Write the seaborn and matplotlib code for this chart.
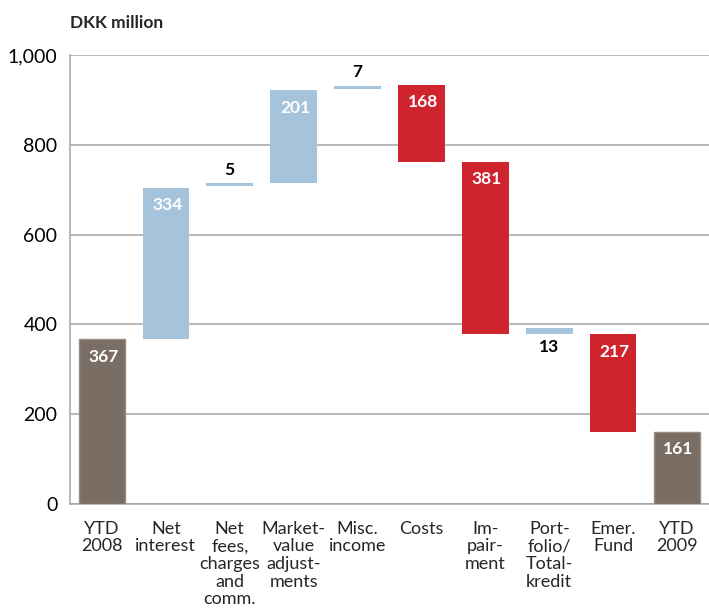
import matplotlib
matplotlib.use("Agg")
import matplotlib.pyplot as plt
import seaborn as sns
import pandas as pd
import numpy as np
from matplotlib.ticker import FixedLocator

categories = ["YTD\n2008", "Net\ninterest", "Net\nfees,\ncharges\nand\ncomm.",
              "Market-\nvalue\nadjust-\nments", "Misc.\nincome", "Costs",
              "Im-\npair-\nment", "Port-\nfolio/\nTotal-\nkredit", "Emer.\nFund", "YTD\n2009"]
bar_bottoms = [0, 367, 708, 716, 924, 762, 379, 378, 161, 0]
bar_tops = [367, 704, 714, 921, 931, 933, 762, 392, 378, 161]
value_labels = ["367", "334", "5", "201", "7", "168", "381", "13", "217", "161"]
label_place = ["inside", "inside", "above", "inside", "above", "inside", "inside", "below", "inside", "inside"]
bar_kind = ["total", "up", "up", "up", "up", "down", "down", "up", "down", "total"]

kind_colors = {"total": "#7a6d63", "up": "#a6c3dc", "down": "#cf242e"}

sns.set_style("white")
plt.rcParams["font.family"] = ["Lato", "DejaVu Sans"]

df = pd.DataFrame({
    "category": categories,
    "height": [t - b for t, b in zip(bar_tops, bar_bottoms)],
})

fig = plt.figure(figsize=(7.09, 6.08), dpi=100)
ax = fig.add_axes([70 / 709, 104 / 608, 639 / 709, 449 / 608])

sns.barplot(data=df, x="category", y="height", bottom=np.array(bar_bottoms, dtype=float),
            width=0.73, color="#a6c3dc", ax=ax, zorder=3, linewidth=0)

for patch, kind in zip(ax.patches, bar_kind):
    patch.set_facecolor(kind_colors[kind])
    if kind == "total":
        patch.set_edgecolor("#9c8c82")
        patch.set_linewidth(1.0)

for i, (lab, place, b, t) in enumerate(zip(value_labels, label_place, bar_bottoms, bar_tops)):
    if place == "inside":
        ax.annotate(lab, (i, t), xytext=(1, -12.5), textcoords="offset points",
                    ha="center", va="center", color="white", fontsize=12.5,
                    fontweight="bold", zorder=5)
    elif place == "above":
        ax.annotate(lab, (i, t), xytext=(0, 10), textcoords="offset points",
                    ha="center", va="center", color="black", fontsize=12.5,
                    fontweight="bold", zorder=5)
    else:
        ax.annotate(lab, (i, b), xytext=(0, -9), textcoords="offset points",
                    ha="center", va="center", color="black", fontsize=12.5,
                    fontweight="bold", zorder=5)

ax.set_xlim(-0.5, 9.5)
ax.set_ylim(0, 1000)
ax.set_yticks([0, 200, 400, 600, 800, 1000])
ax.set_yticklabels(["0", "200", "400", "600", "800", "1,000"])
ax.yaxis.grid(True, color="#a5a5a5", linewidth=1.1, zorder=0)
ax.set_axisbelow(True)

for s in ["top", "right"]:
    ax.spines[s].set_visible(False)
for s in ["left", "bottom"]:
    ax.spines[s].set_color("#a5a5a5")
    ax.spines[s].set_linewidth(1.1)

ax.tick_params(axis="y", length=0, pad=9, labelsize=14, colors="black")
ax.tick_params(axis="x", which="major", length=0, pad=12, labelsize=13)
ax.xaxis.set_minor_locator(FixedLocator([k + 0.5 for k in range(9)]))
ax.tick_params(axis="x", which="minor", direction="in", length=7, width=1.1, color="#a5a5a5")
for lbl in ax.get_xticklabels():
    lbl.set_linespacing(1.13)
    lbl.set_va("top")

ax.set_xlabel("")
ax.set_ylabel("")

fig.text(70 / 709, 1 - 23 / 608, "DKK million", ha="left", va="center",
         fontsize=12.5, fontweight="bold")

fig.savefig("out.png", dpi=100)
